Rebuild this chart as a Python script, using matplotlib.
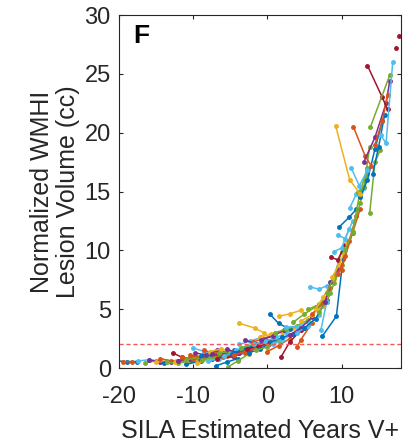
import matplotlib
matplotlib.use("Agg")
import matplotlib.pyplot as plt

plt.rcParams['font.family'] = ['Liberation Sans', 'DejaVu Sans']
plt.rcParams['axes.unicode_minus'] = False

# one entry per subject: estimated years since V+ and normalized WMHI volume (cc)
subject_years = [
    [-20.3, -19.0, -17.6], [-19.5, -18.2], [-17.5, -16.0, -14.5], [-16.5, -15.0],
    [-16.0, -14.5, -13.0], [-15.0, -13.5, -12.0], [-14.5, -13.0, -11.5, -10.0],
    [-14.0, -12.0, -10.5], [-13.5, -12.0, -10.5], [-12.8, -11.5, -10.0],
    [-12.5, -11.0, -9.5, -8.0], [-12.0, -10.5, -9.0], [-11.5, -10.0, -8.5],
    [-11.0, -9.0, -7.5], [-11.0, -9.5, -8.0, -6.5], [-10.5, -9.0, -7.0, -5.5],
    [-10.0, -8.5, -7.0], [-9.8, -8.3, -6.8], [-9.5, -8.0, -6.5],
    [-9.0, -7.5, -6.0, -4.5], [-8.8, -7.3, -5.8, -4.3], [-8.5, -7.0, -5.5],
    [-8.0, -6.5, -5.0, -3.5], [-7.8, -6.3, -4.8], [-7.5, -6.0, -4.5],
    [-6.9, -5.5, -4.0], [-6.8, -5.3, -3.8, -2.3], [-6.5, -5.0, -3.5, -2.0],
    [-6.0, -4.5, -3.0], [-5.8, -4.3, -2.8], [-5.5, -4.0, -2.5, -1.0],
    [-5.3, -4.0, -2.5], [-4.8, -3.3, -1.8, -0.3], [-4.5, -3.0, -1.5],
    [-3.8, -2.3, -0.8], [-3.8, -1.7, -0.5], [-3.5, -2.0, -0.5, 1.0],
    [-3.0, -1.5, 0.0], [-2.8, -1.3, 0.2], [-2.5, -1.0, 0.5, 2.0],
    [-2.0, -0.5, 1.0], [-1.8, -0.3, 1.2, 2.7], [-1.5, 0.0, 1.5],
    [-1.0, 0.5, 2.0, 3.5], [-0.8, 0.7, 2.2], [0.0, 1.5, 3.0],
    [0.3, 1.5, 3.0], [0.8, 2.0, 3.5], [1.0, 2.5, 4.0, 5.5],
    [1.5, 3.0, 4.5], [1.8, 3.0, 4.5], [2.0, 3.5, 5.0], [2.5, 4.0, 5.5],
    [3.0, 4.5, 6.0], [3.5, 5.0, 6.5], [4.0, 4.5, 6.0], [4.0, 5.5, 7.0],
    [4.5, 6.0, 7.5], [5.0, 6.5, 8.0], [5.5, 7.0, 8.5], [5.7, 7.0, 8.0],
    [6.0, 7.5, 8.5], [6.5, 7.5, 9.0], [7.0, 8.0, 9.0, 10.0], [7.2, 8.0],
    [7.4, 9.3, 10.2], [7.8, 8.5, 9.5], [8.0, 9.0, 10.0], [8.6, 9.5, 10.5],
    [8.7, 9.7, 10.8], [9.0, 10.0, 11.0], [9.5, 10.5, 11.5, 12.5],
    [9.5, 10.5, 11.5], [9.7, 11.0, 12.0], [10.0, 11.0, 12.0],
    [10.5, 11.5, 12.5, 13.5], [11.1, 12.0, 13.0], [11.5, 12.5, 13.5],
    [12.2, 13.0, 13.8], [12.5, 13.5, 14.5, 15.5], [9.2, 11.1, 12.5],
    [11.3, 12.4, 13.5], [11.6, 13.2, 14.0], [13.8, 14.5, 15.2],
    [13.0, 14.5, 16.0, 16.5], [14.2, 15.0, 15.8], [14.5, 15.5, 16.2],
    [13.5, 15.5, 16.2], [13.9, 16.5], [15.3, 16.0, 16.9], [17.4], [17.7],
]
subject_volumes = [
    [0.6, 0.55, 0.55], [0.55, 0.5], [0.6, 0.7, 0.55], [0.45, 0.6],
    [0.7, 0.55, 0.5], [0.5, 0.6, 0.55], [0.8, 0.6, 0.7, 0.9],
    [0.4, 0.6, 0.75], [0.5, 0.4, 0.6], [1.3, 0.9, 0.7],
    [0.5, 0.7, 0.6, 0.9], [0.6, 0.8, 0.7], [0.9, 0.8, 1.0],
    [0.3, 0.6, 0.8], [0.7, 0.9, 1.1, 1.0], [1.1, 0.9, 1.3, 1.2],
    [1.7, 1.4, 1.2], [1.3, 1.1, 1.5], [0.4, 0.7, 0.9],
    [1.0, 1.1, 1.3, 1.5], [0.7, 0.9, 1.0, 1.3], [1.5, 1.2, 1.0],
    [0.6, 0.8, 1.1, 1.4], [1.4, 1.6, 1.4], [1.2, 1.0, 0.9],
    [0.2, 0.5, 0.8], [0.8, 1.1, 1.3, 1.6], [1.3, 1.4, 1.6, 1.9],
    [0.9, 1.2, 1.3], [1.0, 1.5, 1.9], [1.6, 1.3, 1.5, 1.8],
    [0.1, 0.6, 1.2], [1.2, 1.6, 1.9, 2.1], [1.1, 1.4, 1.7],
    [2.0, 2.3, 2.6], [3.8, 3.4, 3.0], [1.7, 2.0, 2.2, 2.5],
    [2.4, 2.0, 2.3], [1.6, 1.9, 2.0], [1.3, 1.6, 2.2, 2.6],
    [2.2, 2.5, 2.9], [2.0, 2.3, 2.6, 3.0], [1.5, 1.8, 2.3],
    [2.6, 2.9, 3.1, 3.4], [2.4, 2.7, 3.2], [1.4, 1.9, 2.5],
    [4.6, 3.8, 3.3], [2.0, 2.4, 2.9], [3.0, 3.3, 3.6, 4.1],
    [4.4, 4.6, 4.9], [0.9, 2.2, 3.2], [2.6, 2.9, 3.4], [3.5, 3.5, 3.9],
    [2.8, 3.4, 4.3], [3.9, 4.6, 5.2], [1.8, 2.4, 3.8], [3.0, 3.6, 4.5],
    [4.0, 4.5, 5.3], [3.4, 4.2, 5.8], [5.0, 5.4, 6.4], [6.9, 6.7, 7.0],
    [4.6, 5.5, 6.8], [5.0, 6.0, 7.6], [4.8, 5.6, 7.2, 8.8], [3.2, 5.6],
    [2.7, 4.4, 9.3], [5.6, 7.3, 8.4], [6.4, 7.8, 9.9], [9.4, 9.2, 10.5],
    [7.7, 8.8, 10.6], [9.9, 10.2, 11.8], [8.0, 9.5, 11.5, 13.5],
    [11.3, 11.0, 12.5], [12.0, 12.8, 13.5], [8.3, 10.8, 12.9],
    [10.0, 11.6, 14.0, 16.5], [13.6, 14.8, 15.3], [11.6, 15.0, 17.0],
    [15.0, 15.4, 18.8], [14.5, 16.0, 18.6, 21.0], [20.6, 16.0, 14.8],
    [17.0, 15.5, 16.8], [20.5, 18.0, 17.2], [13.2, 17.5, 18.5],
    [17.5, 19.6, 22.5, 24.4], [16.5, 18.8, 21.5], [19.0, 21.0, 23.2],
    [25.7, 23.0, 22.0], [20.5, 24.9], [19.8, 19.1, 26.0], [27.2], [28.2],
]
threshold = 2.0

matlab = {
    'b': (0.000, 0.447, 0.741), 'o': (0.850, 0.325, 0.098),
    'y': (0.929, 0.694, 0.125), 'p': (0.494, 0.184, 0.556),
    'g': (0.466, 0.674, 0.188), 'c': (0.301, 0.745, 0.933),
    'r': (0.635, 0.078, 0.184),
}
# line colour for each subject, in the same order as above
subject_colors = ("bocgpyobgr" "ypobgocpyb" "gocypbrgoc" "pgbocygprb"
                  "ocgypobcgy" "rbcpgocybg" "coygcbpgry" "cocbogcggb"
                  "ycogpborgc" "rr")

fig = plt.figure(figsize=(4.18, 4.45), dpi=100)
ax = fig.add_axes([0.285, 0.173, 0.674, 0.793])

for xs, ys, c in zip(subject_years, subject_volumes, subject_colors):
    ax.plot(xs, ys, '-', color=matlab[c], lw=1.1, marker='.', ms=5)

ax.axhline(threshold, color=(0.95, 0.35, 0.35), ls='--', lw=1.0, dashes=(3, 2))

ax.set_xlim(-20, 18)
ax.set_ylim(0, 30)
ax.set_xticks([-20, -10, 0, 10])
ax.set_yticks([0, 5, 10, 15, 20, 25, 30])
ax.tick_params(direction='in', length=3, labelsize=17, top=True, right=True,
               colors=(0.15, 0.15, 0.15))
ax.tick_params(axis='x', pad=13)
ax.tick_params(axis='y', pad=6)
for s in ax.spines.values():
    s.set_color((0.15, 0.15, 0.15))
    s.set_linewidth(0.8)

ax.set_xlabel('SILA Estimated Years V+', fontsize=18, color=(0.15, 0.15, 0.15),
              labelpad=8)
ax.set_ylabel('Normalized WMHI\nLesion Volume (cc)', fontsize=18,
              color=(0.15, 0.15, 0.15), linespacing=1.1)
ax.yaxis.set_label_coords(-0.14, 0.5)
ax.text(0.05, 0.975, 'F', transform=ax.transAxes, fontsize=19,
        fontweight='bold', va='top', ha='left')

fig.savefig('out.png', dpi=100)
